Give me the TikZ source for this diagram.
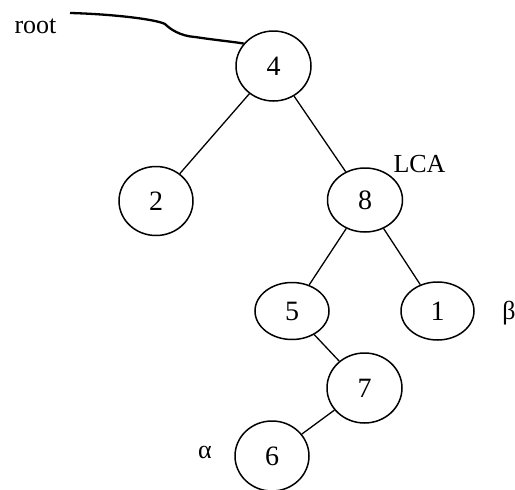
\documentclass[tikz,border=0pt]{standalone}
\usepackage{fontspec}
\setmainfont{Liberation Serif}
\usetikzlibrary{shapes.geometric,arrows.meta}
\begin{document}
\begin{tikzpicture}[x=1pt,y=-1pt,
  tnode/.style={draw,ellipse,line width=1.5pt,inner sep=0pt,font=\fontsize{28}{32}\selectfont},
  lbl/.style={font=\fontsize{26}{30}\selectfont,inner sep=0pt},
  edge/.style={line width=1.3pt}]
\useasboundingbox (0,0) rectangle (515,490);
\node[tnode,minimum width=75,minimum height=70] (n4) at (273.5,66) {4};
\node[tnode,minimum width=74,minimum height=69] (n2) at (156,201) {2};
\node[tnode,minimum width=75,minimum height=64] (n8) at (365,200) {8};
\node[tnode,minimum width=74,minimum height=57] (n5) at (292,311) {5};
\node[tnode,minimum width=73,minimum height=58] (n1) at (437.5,311) {1};
\node[tnode,minimum width=75,minimum height=70] (n7) at (364.5,388) {7};
\node[tnode,minimum width=74,minimum height=70] (n6) at (272,456) {6};
\node[lbl] (root) at (35.5,26) {root};
\node[lbl] (lca) at (419.5,164) {LCA};
\node[lbl] (beta) at (509,313) {β};
\node[lbl] (alpha) at (205,452) {α};
\coordinate (rs) at (70,13);
\draw[edge] (n4) -- (n2);
\draw[edge] (n4) -- (n8);
\draw[edge] (n8) -- (n5);
\draw[edge] (n8) -- (n1);
\draw[edge] (n5) -- (n7);
\draw[edge] (n7) -- (n6);
\draw[line width=2.3pt] (rs) .. controls (110,14) and (155,19) .. (165,24)
  .. controls (170,29) and (180,36) .. (195,37)
  .. controls (215,40) and (235,42) .. (n4.143);
\end{tikzpicture}
\end{document}
